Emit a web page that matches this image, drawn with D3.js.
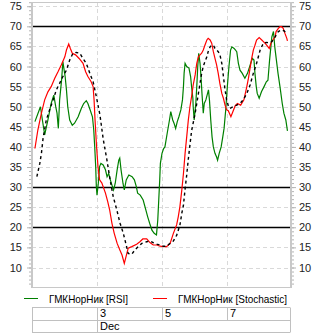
<!DOCTYPE html>
<html><head><meta charset="utf-8">
<script src="https://cdn.jsdelivr.net/npm/d3@7/dist/d3.min.js"></script>
<style>
body{margin:0;background:#fff;}
svg{display:block;font-family:"Liberation Sans",Arial,sans-serif;}
</style>
</head><body>
<svg id="chart" width="325" height="335"></svg>
<script>
// ---- data (x = day of December, y = indicator value) ----
const rsiDays = [1.09,1.26,1.32,1.39,1.49,1.59,1.67,1.73,1.77,1.81,1.85,1.91,1.95,2.02,2.06,2.10,2.16,2.24,2.31,2.42,2.52,2.59,2.67,2.72,2.79,2.86,2.90,2.93,2.96,2.98,3.00,3.04,3.08,3.12,3.19,3.26,3.31,3.36,3.41,3.46,3.51,3.56,3.62,3.67,3.70,3.74,3.80,3.84,3.90,3.98,4.08,4.15,4.21,4.25,4.33,4.42,4.49,4.56,4.62,4.69,4.76,4.83,4.87,4.90,4.93,4.95,5.00,5.05,5.09,5.16,5.23,5.27,5.33,5.37,5.42,5.47,5.52,5.58,5.63,5.66,5.68,5.71,5.76,5.83,5.88,5.91,5.95,5.96,5.99,6.04,6.07,6.10,6.13,6.17,6.20,6.23,6.27,6.30,6.35,6.43,6.46,6.50,6.54,6.58,6.63,6.68,6.71,6.76,6.82,6.87,6.91,6.96,7.01,7.06,7.11,7.15,7.22,7.30,7.35,7.40,7.47,7.55,7.63,7.73,7.78,7.83,7.86,7.90,7.93,7.99,8.06,8.14,8.21,8.26,8.31,8.35,8.38,8.43,8.47,8.52,8.57,8.63,8.70,8.75,8.81,8.86];
const rsiValues = [46.3,50.0,46.7,43.0,46.7,50.8,52.9,50.0,48.4,44.6,51.7,56.6,61.2,57.5,54.2,50.0,46.7,45.4,45.9,47.5,49.6,50.8,51.5,50.8,49.2,47.5,44.2,40.0,35.1,30.1,28.0,30.9,35.1,35.9,35.5,34.3,32.6,33.4,31.8,30.5,29.3,30.9,34.3,36.7,37.2,34.3,30.9,29.3,31.8,33.0,32.6,31.8,30.1,28.5,28.0,26.8,24.7,22.6,21.0,19.3,18.5,18.1,21.8,26.8,31.8,35.9,38.4,39.6,40.0,43.4,46.7,48.8,46.7,45.9,44.6,46.3,47.5,49.2,51.7,55.0,58.3,60.8,60.0,59.6,57.5,55.0,52.1,50.0,46.7,50.8,55.0,60.0,63.3,60.8,57.5,53.3,48.4,50.8,51.7,54.2,51.7,46.7,42.5,40.0,38.4,37.5,36.7,38.4,40.0,42.5,44.6,49.2,55.0,60.0,64.1,64.9,64.5,63.7,60.8,59.1,58.3,57.1,58.3,60.8,62.0,61.6,58.3,55.0,53.3,52.1,53.7,55.0,56.2,56.6,61.6,64.9,67.4,68.7,64.9,61.6,58.3,55.0,50.8,48.4,46.7,44.0];

const stochDays = [1.09,1.18,1.29,1.39,1.49,1.59,1.70,1.80,1.90,2.01,2.06,2.13,2.18,2.24,2.34,2.45,2.57,2.65,2.72,2.82,2.88,2.91,2.94,2.98,3.03,3.08,3.15,3.26,3.33,3.39,3.46,3.53,3.62,3.70,3.77,3.84,3.96,4.07,4.22,4.32,4.41,4.53,4.63,4.73,4.84,4.94,5.04,5.14,5.25,5.35,5.45,5.50,5.55,5.61,5.66,5.71,5.76,5.81,5.86,5.91,5.96,6.02,6.07,6.12,6.17,6.22,6.27,6.32,6.38,6.42,6.48,6.53,6.58,6.63,6.68,6.73,6.78,6.84,6.89,6.94,6.99,7.04,7.12,7.25,7.32,7.42,7.52,7.61,7.66,7.71,7.76,7.81,7.86,7.91,7.99,8.07,8.12,8.17,8.22,8.30,8.35,8.41,8.48,8.51,8.58,8.63,8.68,8.73,8.78,8.84,8.86];
const stochValues = [39.6,44.2,48.4,51.7,53.7,55.0,57.1,58.7,60.4,62.4,64.1,65.6,64.5,63.3,62.9,62.0,60.8,58.7,57.5,56.2,55.0,51.7,46.7,40.9,35.1,31.8,31.0,28.5,26.4,24.3,21.0,18.5,16.0,14.4,13.1,11.0,14.8,15.2,15.8,16.4,17.1,17.1,16.2,15.6,15.6,15.3,15.2,15.2,16.0,18.5,20.6,22.6,25.1,29.3,33.4,38.4,42.5,46.7,50.0,52.5,55.4,57.9,60.8,62.4,62.9,63.3,64.1,65.3,66.6,67.0,66.6,65.8,63.7,62.0,60.4,58.3,55.8,53.3,52.1,50.4,49.2,49.0,47.5,50.2,50.8,50.4,51.7,55.0,57.1,59.6,62.0,64.1,65.3,66.6,67.2,66.6,66.2,65.8,65.3,64.5,65.8,66.6,67.4,68.7,69.5,69.9,69.9,69.5,68.3,67.0,66.4];

const signalDays = [1.15,1.24,1.29,1.34,1.44,1.54,1.65,1.75,1.85,1.95,2.06,2.16,2.26,2.36,2.47,2.57,2.67,2.78,2.88,2.98,3.04,3.09,3.19,3.30,3.40,3.50,3.61,3.71,3.81,3.91,3.96,4.07,4.17,4.27,4.38,4.53,4.63,4.73,4.84,4.94,5.04,5.14,5.25,5.35,5.45,5.55,5.61,5.66,5.71,5.76,5.81,5.86,5.91,5.96,6.02,6.07,6.12,6.17,6.22,6.27,6.32,6.38,6.42,6.48,6.53,6.58,6.63,6.68,6.73,6.78,6.84,6.89,6.94,6.99,7.04,7.09,7.19,7.30,7.40,7.50,7.61,7.71,7.81,7.91,8.02,8.12,8.22,8.30,8.38,8.48,8.58,8.68,8.75,8.84];
const signalValues = [32.6,35.9,38.4,42.1,46.7,49.2,51.7,54.2,55.8,57.5,59.1,61.6,63.3,63.5,63.3,62.0,60.8,58.3,56.2,52.5,50.0,48.0,42.0,37.0,32.0,27.6,24.3,21.0,18.5,15.2,13.5,13.3,14.4,15.2,16.0,16.4,16.6,16.2,15.8,15.6,15.3,15.3,16.0,16.6,18.0,20.5,23.5,25.5,29.5,33.0,37.0,40.5,44.0,46.0,48.4,50.8,53.3,55.8,58.3,60.0,61.2,62.4,63.7,64.9,65.3,65.3,64.5,64.1,63.7,63.0,60.8,57.5,54.2,51.7,50.2,49.6,50.0,50.4,50.8,51.7,53.3,55.4,58.3,60.8,64.1,65.8,66.0,65.9,66.2,67.4,68.7,69.1,68.9,68.3];

const yTickLabels = [10,15,20,25,30,35,40,45,50,55,60,65,70,75];
const yMinorTicks = d3.range(6, 77);
const levelLines = [70, 30, 20];
const xTickDays = [3, 5, 7];
const xTickLabels = ["3", "5", "7"];
const monthLabel = "Dec";
const seriesNames = ["ГМКНорНик [RSI]", "ГМКНорНик [Stochastic]"];
const seriesColors = ["#008000", "#ff0000"];

// ---- layout ----
const svg = d3.select("#chart");
const L = 32, R = 291, T = 2, B = 287;
const x = d3.scaleLinear().domain([1, 9]).range([32, 292]);
const y = d3.scaleLinear().domain([5, 76]).range([287.6, 2.2]);

// gridlines
const grid = svg.append("g");
grid.selectAll("line.h").data(yTickLabels).enter().append("line")
  .attr("x1", L).attr("x2", R)
  .attr("y1", d => Math.round(y(d)) + 0.5).attr("y2", d => Math.round(y(d)) + 0.5)
  .attr("stroke", "#d9d9d9").attr("stroke-dasharray", "4,3");
grid.selectAll("line.v").data(xTickDays).enter().append("line")
  .attr("x1", d => Math.round(x(d)) + 0.5).attr("x2", d => Math.round(x(d)) + 0.5)
  .attr("y1", T).attr("y2", B)
  .attr("stroke", "#d9d9d9").attr("stroke-dasharray", "4,3");

// frame top/bottom
svg.append("line").attr("x1", L).attr("x2", R).attr("y1", T + 0.5).attr("y2", T + 0.5).attr("stroke", "#c8c8c8");
svg.append("line").attr("x1", L).attr("x2", R).attr("y1", B + 0.5).attr("y2", B + 0.5).attr("stroke", "#c8c8c8");

// level lines
svg.selectAll("line.lvl").data(levelLines).enter().append("line")
  .attr("x1", L).attr("x2", R)
  .attr("y1", d => Math.round(y(d)) + 0.5).attr("y2", d => Math.round(y(d)) + 0.5)
  .attr("stroke", "#000").attr("stroke-width", 1.5);

// axes
function styleAxis(g) {
  g.select(".domain").remove();
  g.selectAll(".tick line").attr("stroke", "#b4b4b4");
  g.selectAll(".tick text").attr("fill", "#222").attr("font-size", 11).attr("font-family", "'Liberation Sans', Arial, sans-serif");
}
svg.append("g").attr("transform", `translate(${L},0)`)
  .call(d3.axisLeft(y).tickValues(yMinorTicks).tickSize(3).tickFormat("")).call(styleAxis);
svg.append("g").attr("transform", `translate(${L},0)`)
  .call(d3.axisLeft(y).tickValues(yTickLabels).tickSize(5).tickPadding(5)).call(styleAxis);
svg.append("g").attr("transform", `translate(${R},0)`)
  .call(d3.axisRight(y).tickValues(yMinorTicks).tickSize(3).tickFormat("")).call(styleAxis);
svg.append("g").attr("transform", `translate(${R},0)`)
  .call(d3.axisRight(y).tickValues(yTickLabels).tickSize(5).tickPadding(3)).call(styleAxis);
svg.append("line").attr("x1", L).attr("x2", L).attr("y1", T).attr("y2", B + 1).attr("stroke", "#c8c8c8").attr("stroke-width", 2);
svg.append("line").attr("x1", R).attr("x2", R).attr("y1", T).attr("y2", B + 1).attr("stroke", "#c8c8c8").attr("stroke-width", 2);

// series
const line = d3.line().x(d => x(d[0])).y(d => y(d[1]));
const zipSeries = (days, vals) => days.map((d, i) => [d, vals[i]]);
svg.append("path").datum(zipSeries(rsiDays, rsiValues))
  .attr("d", line).attr("fill", "none").attr("stroke", seriesColors[0]).attr("stroke-width", 1.2);
svg.append("path").datum(zipSeries(stochDays, stochValues))
  .attr("d", line).attr("fill", "none").attr("stroke", seriesColors[1]).attr("stroke-width", 1.2);
svg.append("path").datum(zipSeries(signalDays, signalValues))
  .attr("d", line).attr("fill", "none").attr("stroke", "#000").attr("stroke-width", 1.4).attr("stroke-dasharray", "3,3");

// legend
const legendX = [24, 153];
const legendTextWidth = [79, 109];
const leg = svg.append("g");
seriesNames.forEach((n, i) => {
  leg.append("line").attr("x1", legendX[i]).attr("x2", legendX[i] + 14).attr("y1", 298.5).attr("y2", 298.5)
    .attr("stroke", seriesColors[i]).attr("stroke-width", 1);
  leg.append("text").attr("x", legendX[i] + 25).attr("y", 302.5).attr("font-size", 11).attr("fill", "#000")
    .attr("textLength", legendTextWidth[i]).attr("lengthAdjust", "spacingAndGlyphs").text(n);
});

// bottom table
const tb = svg.append("g").attr("stroke", "#c0c0c0").attr("stroke-width", 1);
const rowY = [307.5, 320.5, 332.5];
rowY.forEach(ry => tb.append("line").attr("x1", L).attr("x2", 290).attr("y1", ry).attr("y2", ry));
tb.append("line").attr("x1", L + 0.5).attr("x2", L + 0.5).attr("y1", rowY[0]).attr("y2", rowY[2]);
tb.append("line").attr("x1", 290.5).attr("x2", 290.5).attr("y1", rowY[0]).attr("y2", rowY[2]);
xTickDays.forEach((d, i) => {
  tb.append("line").attr("x1", Math.round(x(d)) + 0.5).attr("x2", Math.round(x(d)) + 0.5)
    .attr("y1", rowY[0]).attr("y2", i === 0 ? rowY[2] : rowY[1]);
  svg.append("text").attr("x", x(d) + 3).attr("y", 317).attr("font-size", 11).attr("fill", "#000").text(xTickLabels[i]);
});
svg.append("text").attr("x", x(xTickDays[0]) + 3).attr("y", 330).attr("font-size", 11).attr("fill", "#000").text(monthLabel);
</script>
</body></html>
